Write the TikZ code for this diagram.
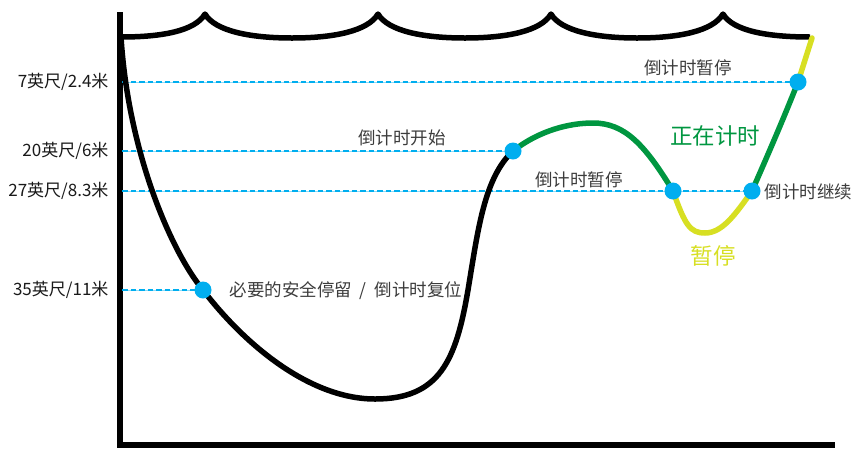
\documentclass[tikz,border=0pt]{standalone}
\usepackage{fontspec}
\setmainfont{Noto Sans CJK SC}
\definecolor{cyanc}{RGB}{0,174,239}
\definecolor{greenc}{RGB}{0,150,64}
\definecolor{yellowc}{RGB}{215,223,35}
\definecolor{txtgray}{RGB}{60,60,60}
\begin{document}
\begin{tikzpicture}[x=1pt,y=-1pt,
  curve/.style={line width=5.5pt,line cap=round,line join=round},
  axisline/.style={line width=6pt},
  dashln/.style={cyanc,line width=2.6pt,dash pattern=on 5.5pt off 3pt},
  thinln/.style={cyanc!45,line width=0.8pt},
  dot/.style={circle,fill=cyanc,inner sep=0pt,minimum size=17pt},
  depth/.style={font=\fontsize{17}{20}\selectfont,anchor=east,text=black!90},
  note/.style={font=\fontsize{17.5}{20}\selectfont,text=txtgray},
  big/.style={font=\fontsize{22.5}{26}\selectfont}]
\useasboundingbox (0,0) rectangle (852,448);
% coordinates
\coordinate (s0) at (121,37);
\coordinate (p1) at (203,290);
\coordinate (bot) at (375,399);
\coordinate (mid) at (468,290);
\coordinate (p2) at (513,151);
\coordinate (peak) at (593,123);
\coordinate (p3) at (673,191);
\coordinate (low) at (705,233);
\coordinate (p4) at (752,191);
\coordinate (p5) at (798,82);
\coordinate (e0) at (812,38);
% axes
\draw[axisline] (119.5,12) -- (119.5,445) -- (835,445);
% surface
\draw[line width=5.5pt,line join=round] (121,37) .. controls (162,37) and (195,31) .. (205,14)
  .. controls (215,31) and (250,38) .. (292,38) .. controls (334,38) and (368,31) .. (378,14)
  .. controls (388,31) and (423,38) .. (465,38) .. controls (507,38) and (541,31) .. (551,14)
  .. controls (561,31) and (596,38) .. (637,38) .. controls (679,38) and (713,31) .. (723,14)
  .. controls (733,31) and (768,37) .. (810,37);
% dashed depth lines
\foreach \yy/\pp in {82/p5,151/p2,191/p4,290/p1}{
  \draw[thinln] (122,\yy) -- (\pp);
  \draw[dashln] (122,\yy) -- (\pp);
}
% dive profile
\draw[curve] (s0) .. controls (128,150) and (170,250) .. (p1)
  .. controls (245,345) and (310,399) .. (bot)
  .. controls (440,399) and (456,360) .. (mid)
  .. controls (478,230) and (484,178) .. (p2);
\draw[curve,greenc] (p2) .. controls (540,130) and (570,123) .. (peak)
  .. controls (625,123) and (645,145) .. (p3);
\draw[curve,yellowc] (p3) .. controls (685,225) and (690,233) .. (low)
  .. controls (722,233) and (735,215) .. (p4);
\draw[curve,greenc] (p4) .. controls (770,150) and (785,115) .. (p5);
\draw[curve,yellowc] (p5) -- (e0);
% dots
\node[dot] (d1) at (p1) {};
\node[dot] (d2) at (p2) {};
\node[dot] (d3) at (p3) {};
\node[dot] (d4) at (p4) {};
\node[dot] (d5) at (p5) {};
% depth labels
\node[depth] (l1) at (112,82) {7英尺/2.4米};
\node[depth] (l2) at (112,151) {20英尺/6米};
\node[depth] (l3) at (112,191) {27英尺/8.3米};
\node[depth] (l4) at (112,290) {35英尺/11米};
% notes
\node[note] (n1) at (688,68) {倒计时暂停};
\node[note] (n2) at (402,138) {倒计时开始};
\node[note] (n3) at (579,180) {倒计时暂停};
\node[note,anchor=west] (n4) at (761,192) {倒计时继续};
\node[note,anchor=west] (n5) at (226,291) {必要的安全停留\ \ /\ \ 倒计时复位};
\node[big,text=greenc] (n6) at (715,136) {正在计时};
\node[big,text=yellowc] (n7) at (713,256) {暂停};
\end{tikzpicture}
\end{document}
